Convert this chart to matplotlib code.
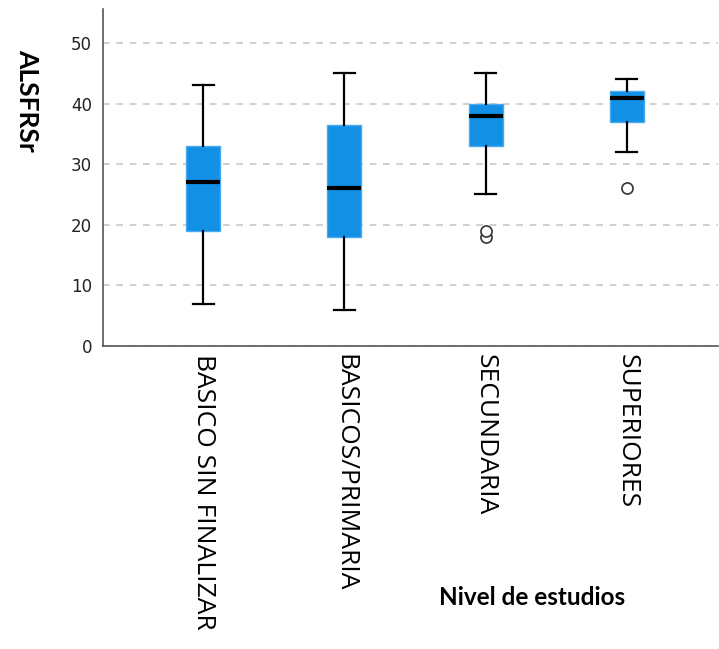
import matplotlib
matplotlib.use("Agg")
from matplotlib import pyplot as plt

# datos
niveles = ["BASICO SIN FINALIZAR", "BASICOS/PRIMARIA", "SECUNDARIA", "SUPERIORES"]
whislo = [7, 6, 25, 32]
q1 = [19, 18, 33, 37]
med = [27, 26, 38, 41]
q3 = [33, 36.5, 40, 42]
whishi = [43, 45, 45, 44]
atipicos = [[], [], [18, 19], [26]]

stats = []
for i in range(len(niveles)):
    stats.append({"whislo": whislo[i], "q1": q1[i], "med": med[i],
                  "q3": q3[i], "whishi": whishi[i], "fliers": atipicos[i]})

fig = plt.figure(figsize=(7.19, 6.49), dpi=100)
ax = fig.add_axes([0.1433, 0.4669, 0.856, 0.5192])

ax.bxp(stats, positions=range(len(niveles)), widths=0.24, capwidths=0.15,
       patch_artist=True, showfliers=True,
       boxprops=dict(facecolor="#1290e6", edgecolor="#4aaaf0", linewidth=1),
       medianprops=dict(color="black", linewidth=3),
       whiskerprops=dict(color="black", linewidth=1.6),
       capprops=dict(color="black", linewidth=1.6),
       flierprops=dict(marker="o", markerfacecolor="white", markeredgecolor="#333333",
                       markersize=8, markeredgewidth=1.2))

ax.set_xlim(-0.71, 3.65)
ax.set_ylim(0, 55.6)
ax.set_yticks([0, 10, 20, 30, 40, 50])
ax.yaxis.grid(True, linestyle=(0, (4, 4)), color="#c8c8c8", linewidth=1.2)
ax.set_axisbelow(True)
ax.tick_params(axis="y", length=0, pad=8, labelsize=12, labelcolor="#222222")
ax.tick_params(axis="x", length=0, pad=6)
ax.set_xticks(range(len(niveles)))
ax.set_xticklabels(niveles, rotation=-90, fontsize=19, family="Open Sans",
                   color="black", va="top", ha="center")
for lab in ax.get_yticklabels():
    lab.set_family("DejaVu Sans")

for s in ["top", "right"]:
    ax.spines[s].set_visible(False)
ax.spines["left"].set_color("#555555")
ax.spines["bottom"].set_color("#555555")
ax.spines["left"].set_linewidth(1.2)
ax.spines["bottom"].set_linewidth(1.2)

fig.text(0.038, 0.846, "ALSFRSr", rotation=-90, fontsize=19, fontweight="bold",
         family="Lato", ha="center", va="center")
fig.text(0.740, 0.080, "Nivel de estudios", fontsize=17.5, fontweight="bold",
         family="Lato", ha="center", va="center")

fig.savefig("out.png", dpi=100)
